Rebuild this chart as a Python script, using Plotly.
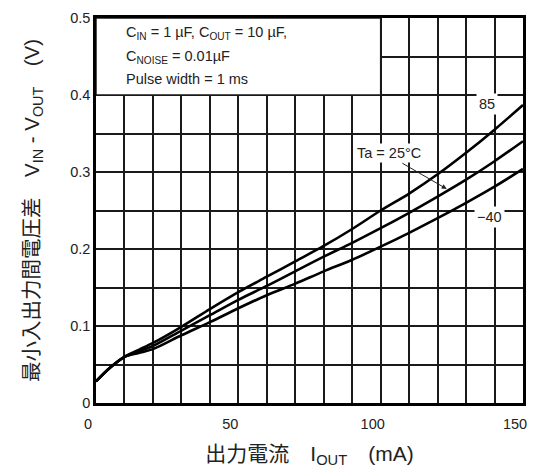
import plotly.graph_objects as go

# ---- data ----
iout_ma = [0, 5, 10, 15, 20, 30, 40, 50, 60, 70, 80, 90, 100, 110, 120, 130, 140, 150]
v_85 = [0.028, 0.046, 0.060, 0.069, 0.078, 0.099, 0.122, 0.144, 0.164, 0.184, 0.204,
        0.226, 0.250, 0.272, 0.297, 0.325, 0.355, 0.387]
v_25 = [0.028, 0.046, 0.060, 0.067, 0.074, 0.094, 0.114, 0.134, 0.152, 0.171, 0.190,
        0.208, 0.227, 0.247, 0.268, 0.290, 0.314, 0.340]
v_m40 = [0.028, 0.046, 0.060, 0.065, 0.070, 0.088, 0.105, 0.123, 0.140, 0.155, 0.171,
         0.186, 0.203, 0.221, 0.240, 0.260, 0.281, 0.304]
series_names = ["85", "25", "-40"]
x_ticks = [0, 50, 100, 150]
y_ticks = [0, 0.1, 0.2, 0.3, 0.4, 0.5]
y_tick_text = ["0", "0.1", "0.2", "0.3", "0.4", "0.5"]

LAT = "Liberation Sans, Arial, Noto Sans CJK JP, sans-serif"
GRID = "#1a1a1a"

fig = go.Figure()
for name, ys in zip(series_names, [v_85, v_25, v_m40]):
    fig.add_trace(go.Scatter(x=iout_ma, y=ys, mode="lines", name=name,
                             line=dict(color="black", width=2.6, shape="spline", smoothing=0.9),
                             showlegend=False))

# white box for the conditions text (no grid inside)
fig.add_shape(type="rect", xref="x", yref="y", x0=0, x1=100, y0=0.4, y1=0.5,
              fillcolor="white", line=dict(color=GRID, width=1.5), layer="between")

cond_lines = [
    ("C<sub>IN</sub> = 1 µF, C<sub>OUT</sub> = 10 µF,", 0.4805),
    ("C<sub>NOISE</sub> = 0.01µF", 0.4495),
    ("Pulse width = 1 ms", 0.4205),
]
for txt, yy in cond_lines:
    fig.add_annotation(x=9.7, y=yy, xref="x", yref="y", text=txt, showarrow=False,
                       xanchor="left", yanchor="middle",
                       font=dict(family=LAT, size=14.5, color="#222"))

# curve labels
fig.add_annotation(x=137.2, y=0.388, xref="x", yref="y", text="85", showarrow=False,
                   bgcolor="white", borderpad=2, font=dict(family=LAT, size=14.5, color="#222"))
fig.add_annotation(x=138.3, y=0.242, xref="x", yref="y", text="\u221240", showarrow=False,
                   bgcolor="white", borderpad=2, font=dict(family=LAT, size=14.5, color="#222"))
fig.add_annotation(x=102.8, y=0.325, xref="x", yref="y", text="Ta = 25°C", showarrow=False,
                   bgcolor="white", borderpad=1, font=dict(family=LAT, size=14.5, color="#222"))
fig.add_annotation(x=123.2, y=0.278, ax=107.1, ay=0.3125, xref="x", yref="y",
                   axref="x", ayref="y", text="", showarrow=True,
                   arrowhead=2, arrowsize=1, arrowwidth=1, arrowcolor="#222")

axis_common = dict(showline=True, linecolor="black", linewidth=2.5, mirror=True,
                   showgrid=True, gridcolor=GRID, gridwidth=1.5, zeroline=False,
                   ticks="", tickfont=dict(family=LAT, size=14.5, color="#222"))

fig.update_xaxes(range=[0, 150], tickvals=x_ticks, ticktext=[str(v) for v in x_ticks],
                 minor=dict(dtick=10, tick0=0, showgrid=True, gridcolor=GRID, gridwidth=1.5),
                 ticklabelshift=-8, ticklabelstandoff=6,
                 title=dict(text="出力電流　I<sub>OUT</sub>　(mA)", standoff=18,
                            font=dict(family=LAT, size=21, color="#222")),
                 **axis_common)
fig.update_yaxes(range=[0, 0.5], tickvals=y_ticks, ticktext=y_tick_text,
                 minor=dict(dtick=0.05, tick0=0, showgrid=True, gridcolor=GRID, gridwidth=1.5),
                 ticklabelstandoff=0,
                 title=dict(text="最小入出力間電圧差　V<sub>IN</sub> - V<sub>OUT</sub>　(V)", standoff=26,
                            font=dict(family=LAT, size=20.5, color="#222")),
                 **axis_common)

# the page body adds an 8 px offset, so the figure is 8 px smaller and margins shifted
fig.update_layout(width=529, height=460, margin=dict(l=88, r=14, t=10, b=65, autoexpand=False),
                  paper_bgcolor="white", plot_bgcolor="white", showlegend=False)

fig.write_html("out.html")
